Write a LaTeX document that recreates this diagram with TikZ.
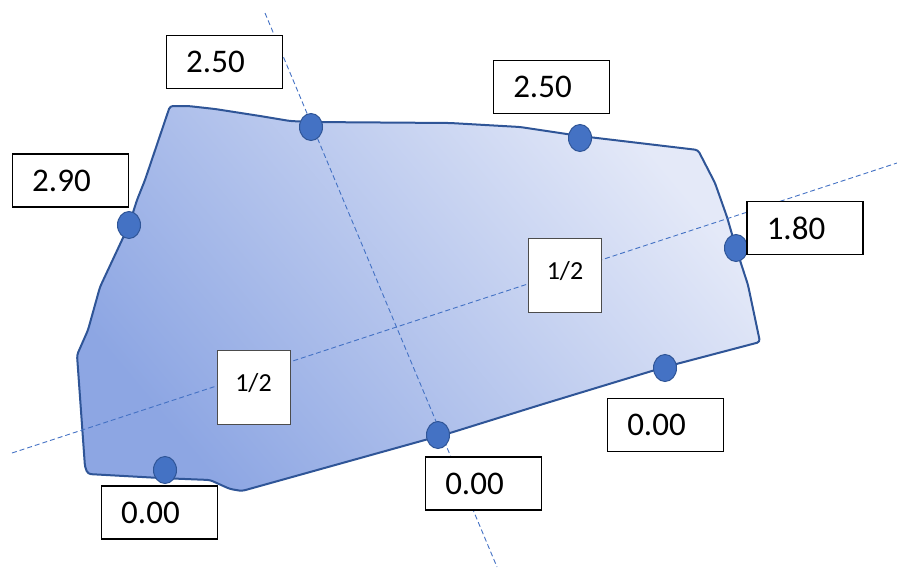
\documentclass[tikz,border=0pt]{standalone}
\usepackage{fontspec}
\setmainfont{Carlito}
\usetikzlibrary{shapes.geometric}
\definecolor{edgeblue}{HTML}{2F5597}
\definecolor{dotblue}{HTML}{4472C4}
\definecolor{darkfill}{HTML}{8DA6E3}
\definecolor{lightfill}{HTML}{E4E9F8}
\newcommand\vallbl[1]{\raisebox{-5pt}{\hspace*{-18pt}#1}}
\newcommand\halflbl[1]{\raisebox{10pt}{#1}}
\begin{document}
\begin{tikzpicture}[x=1pt,y=-1pt,
  valbox/.style={draw=black, line width=1.8pt, fill=white, minimum width=116pt, minimum height=53pt, inner sep=0pt, font=\fontsize{33}{38}\selectfont},
  halfbox/.style={draw=black!70, line width=0.8pt, fill=white, minimum width=73pt, minimum height=74pt, inner sep=0pt, font=\fontsize{26}{30}\selectfont},
  vdot/.style={ellipse, draw=edgeblue, line width=1pt, fill=dotblue, minimum width=23pt, minimum height=27pt, inner sep=0pt},
  axisline/.style={draw=dotblue, line width=0.9pt, dash pattern=on 5pt off 3pt},
  outline/.style={draw=edgeblue, line width=2pt, rounded corners=3pt, line join=round}]
\useasboundingbox (0,0) rectangle (897,570);
% plate
\draw[outline, top color=lightfill, bottom color=darkfill, shading angle=-50]
  (170,106) -- (188,106) -- (215,109) -- (260,116) -- (290,121) -- (311,122)
  -- (450,123) -- (520,127) -- (580,136) -- (698,150) -- (715,183) -- (727,217)
  -- (736,248) -- (748,285) -- (760,342) -- (665,367) -- (540,405) -- (450,433)
  -- (242,491) -- (230,489) -- (210,480) -- (160,478) -- (88,474) -- (85,467)
  -- (77,355) -- (88,330) -- (100,287) -- (129,225) -- (137,200) -- (145,180) -- cycle;
% axes
\coordinate (a1) at (265,13);
\coordinate (a2) at (497,567);
\coordinate (b1) at (12,453);
\coordinate (b2) at (897,163);
\draw[axisline] (a1) -- (a2);
\draw[axisline] (b1) -- (b2);
% dots
\node[vdot] (d1) at (129,225) {};
\node[vdot] (d2) at (311,127) {};
\node[vdot] (d3) at (580,138) {};
\node[vdot] (d4) at (736,248) {};
\node[vdot] (d5) at (665,368) {};
\node[vdot] (d6) at (438,435) {};
\node[vdot] (d7) at (165,470) {};
% value boxes
\node[valbox] (v1) at (224.5,62) {\vallbl{2.50}};
\node[valbox] (v2) at (70.5,180.5) {\vallbl{2.90}};
\node[valbox] (v3) at (551.5,87) {\vallbl{2.50}};
\node[valbox] (v4) at (805,228) {\vallbl{1.80}};
\node[valbox] (v5) at (665.5,425) {\vallbl{0.00}};
\node[valbox] (v6) at (483.5,483.5) {\vallbl{0.00}};
\node[valbox] (v7) at (159.5,512.5) {\vallbl{0.00}};
% half boxes
\node[halfbox] (h1) at (565,275.5) {\halflbl{1/2}};
\node[halfbox] (h2) at (253.5,387.5) {\halflbl{1/2}};
\end{tikzpicture}
\end{document}
